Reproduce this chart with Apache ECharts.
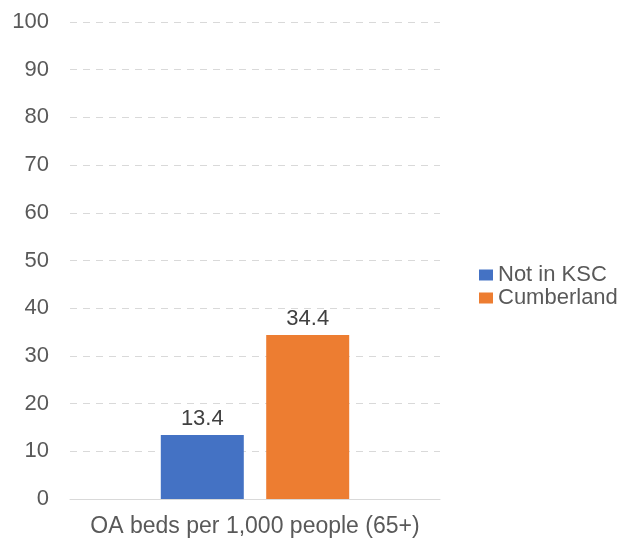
<!DOCTYPE html>
<html><head><meta charset="utf-8">
<script src="https://cdn.jsdelivr.net/npm/echarts@6/dist/echarts.min.js"></script>
<style>html,body{margin:0;padding:0;background:#fff}#c{width:624px;height:540px}</style>
</head><body><div id="c"></div>
<script>
const categories = ["OA beds per 1,000 people (65+)"];
const seriesNames = ["Not in KSC", "Cumberland"];
const notInKSC = [13.4];
const cumberland = [34.4];
const colors = ["#4472C4", "#ED7D31"];

const chart = echarts.init(document.getElementById('c'), null, {renderer: 'canvas'});
const font = 'Liberation Sans, Arial, sans-serif';
const mk = (name, data, color) => ({
  name, type: 'bar', data, barWidth: 83, barGap: '27%',
  itemStyle: {color},
  label: {show: true, position: 'top', distance: 5, color: '#404040', fontSize: 22, fontFamily: font, formatter: p => p.value.toFixed(1)}
});
chart.setOption({
  animation: false,
  grid: {left: 70, right: 184, top: 22, bottom: 41, containLabel: false},
  legend: {
    orient: 'vertical', left: 474, top: 259, itemWidth: 14, itemHeight: 11, itemGap: 1,
    icon: 'rect',
    textStyle: {color: '#595959', fontSize: 22, lineHeight: 20, fontFamily: font},
    data: seriesNames
  },
  xAxis: {
    type: 'category', data: categories,
    axisLine: {lineStyle: {color: '#D9D9D9', width: 1}},
    axisTick: {show: false},
    axisLabel: {color: '#595959', fontSize: 23, fontFamily: font, margin: 16}
  },
  yAxis: {
    type: 'value', min: 0, max: 100, interval: 10,
    axisLine: {show: false}, axisTick: {show: false},
    axisLabel: {color: '#595959', fontSize: 22, fontFamily: font, margin: 21},
    splitLine: {lineStyle: {color: '#D9D9D9', type: [7, 6], width: 1}}
  },
  series: [mk(seriesNames[0], notInKSC, colors[0]), mk(seriesNames[1], cumberland, colors[1])]
});
</script></body></html>
